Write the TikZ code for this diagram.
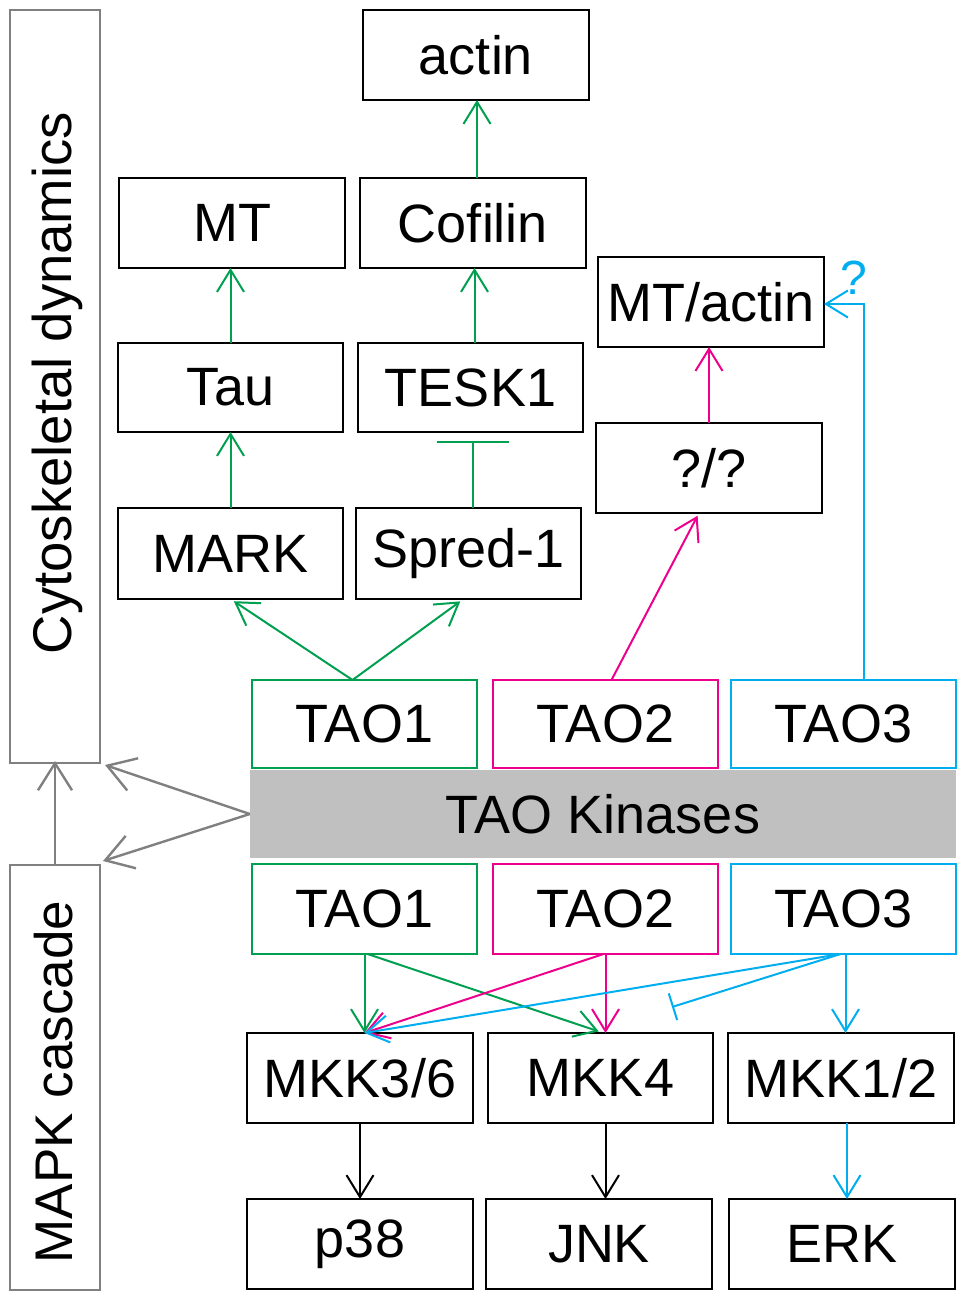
\documentclass[tikz,border=0pt]{standalone}
\usepackage{fontspec}
\setmainfont{Liberation Sans}
\usetikzlibrary{arrows.meta,calc}
\definecolor{tgreen}{RGB}{0,160,80}
\definecolor{tmag}{RGB}{236,0,140}
\definecolor{tcyan}{RGB}{0,174,239}
\definecolor{tgray}{RGB}{128,128,128}
\definecolor{tbar}{RGB}{192,192,192}
\tikzset{
  bx/.style={draw, line width=2.6pt, inner sep=0pt, outer sep=0pt,
     minimum width=226pt, minimum height=90pt, font=\fontsize{54}{60}\selectfont},
  tao/.style={bx, line width=2pt, minimum width=225pt, minimum height=88pt},
  side/.style={draw=tgray, line width=2pt, inner sep=0pt, outer sep=0pt,
     minimum width=90pt},
  sidetext/.style={rotate=90, inner sep=0pt},
  act/.style={line width=2pt, -{Straight Barb[length=22pt,width=27pt]}},
  gact/.style={line width=2.4pt, draw=tgray, -{Straight Barb[length=27pt,width=34pt]}},
  inh/.style={line width=2pt, -{Bar[width=#1]}},
}
\begin{document}
\begin{tikzpicture}[x=1pt,y=-1pt]
\useasboundingbox (0,0) rectangle (966,1300);

% side boxes
\node[side, minimum height=753pt] (cyto) at (55,386.5) {};
\node[sidetext, font=\fontsize{54.5}{60}\selectfont] (cytot) at (57,383) {Cytoskeletal dynamics};
\node[side, minimum height=425pt] (mapk) at (55,1077.5) {};
\node[sidetext, font=\fontsize{53}{58}\selectfont] (mapkt) at (54,1082) {MAPK cascade};

% cytoskeletal branch
\node[bx] (actin) at (476,55) {actin};
\node[bx] (MT) at (232,223) {MT};
\node[bx] (cof) at (473,223) {Cofilin};
\node[bx] (mta) at (711,302) {MT/actin};
\node[bx, minimum width=225pt, minimum height=89pt] (tau) at (230.5,387.5) {Tau};
\node[bx, minimum width=225pt, minimum height=89pt] (tesk) at (470.5,387.5) {TESK1};
\node[bx] (qq) at (709,468) {?/?};
\node[bx, minimum width=225pt, minimum height=91pt] (mark) at (230.5,553.5) {MARK};
\node[bx, minimum width=225pt, minimum height=91pt] (spred) at (468.5,553.5) {Spred-1};

% TAO rows
\node[tao, draw=tgreen] (t1a) at (364.5,724) {TAO1};
\node[tao, draw=tmag] (t2a) at (605.5,724) {TAO2};
\node[tao, draw=tcyan] (t3a) at (843.5,724) {TAO3};
\node[fill=tbar, inner sep=0pt, minimum width=706pt, minimum height=88pt,
      font=\fontsize{54}{60}\selectfont] (bar) at (603,814) {TAO Kinases};
\node[tao, draw=tgreen, minimum height=90pt] (t1b) at (364.5,909) {TAO1};
\node[tao, draw=tmag, minimum height=90pt] (t2b) at (605.5,909) {TAO2};
\node[tao, draw=tcyan, minimum height=90pt] (t3b) at (843.5,909) {TAO3};

% MAPK rows
\node[bx] (mkk36) at (360,1078) {MKK3/6};
\node[bx, minimum width=225pt] (mkk4) at (600.5,1078) {MKK4};
\node[bx] (mkk12) at (841,1078) {MKK1/2};
\node[bx] (p38) at (360,1244) {p38};
\node[bx] (jnk) at (599,1244) {JNK};
\node[bx] (erk) at (842,1244) {ERK};

% question mark label
\node[text=tcyan, font=\fontsize{48}{54}\selectfont, inner sep=0pt] (q3) at (854,278) {?};

% gray connectors
\coordinate (gu) at ($(cyto.south east)+(5,2)$);
\coordinate (gd) at ($(mapk.north east)+(3,-4)$);
\draw[gact] (bar.west) -- (gu);
\draw[gact] (bar.west) -- (gd);
\draw[gact, shorten >=-2pt] (mapk.north) -- (cyto.south);

% green cytoskeletal arrows
\begin{scope}[draw=tgreen]
\draw[act] (cof.north) ++(4,0) coordinate (cofn) -- (cofn |- actin.south);
\draw[act] (tau.north) -- (tau.north |- MT.south);
\draw[act] (tesk.north) ++(4,0) coordinate (teskn) -- (teskn |- cof.south);
\draw[act] (mark.north) -- (mark.north |- tau.south);
\draw[inh=72pt, shorten >=9pt] (spred.north) ++(4,0) coordinate (spn) -- (spn |- tesk.south);
\draw[act, shorten >=4pt] (t1a.north) ++(-12,0) coordinate (t1n) -- (mark.south);
\draw[act, shorten >=4pt] (t1n) -- ($(spred.south)+(-5,0)$);
\end{scope}

% magenta cytoskeletal arrows
\draw[act, draw=tmag, shorten >=3pt] ($(t2a.north)+(6,0)$) -- ($(qq.south)+(-10,0)$);
\draw[act, draw=tmag] (qq.north) -- (qq.north |- mta.south);

% cyan to MT/actin
\coordinate (t3n) at ($(t3a.north)+(20,0)$);
\draw[act, draw=tcyan] (t3n) |- ($(mta.east)+(0,2)$);

% bottom connectors
\coordinate (m36in) at (t1b.south |- mkk36.north);
\coordinate (m4in) at ($(mkk4.north)+(3,0)$);
\coordinate (inhend) at (672,1007);
\draw[act, draw=tgreen] (t1b.south) -- (m36in);
\draw[act, draw=tgreen, shorten >=5pt] ($(t1b.south)+(3,0)$) -- (m4in);
\draw[act, draw=tmag] (t2b.south) -- (t2b.south |- mkk4.north);
\draw[act, draw=tmag] ($(t2b.south)+(-2,0)$) -- (m36in);
\draw[act, draw=tcyan] ($(t3b.south)+(-3,0)$) -- (m36in);
\draw[inh=28pt, draw=tcyan] ($(t3b.south)+(-3,0)$) -- (inhend);
\draw[act, draw=tcyan] ($(t3b.south)+(2,0)$) coordinate (t3s) -- (t3s |- mkk12.north);

\draw[act, draw=black] (mkk36.south) -- (mkk36.south |- p38.north);
\draw[act, draw=black] ($(mkk4.south)+(5,0)$) coordinate (m4s) -- (m4s |- jnk.north);
\draw[act, draw=tcyan] ($(mkk12.south)+(6,0)$) coordinate (m12s) -- (m12s |- erk.north);
\end{tikzpicture}
\end{document}
